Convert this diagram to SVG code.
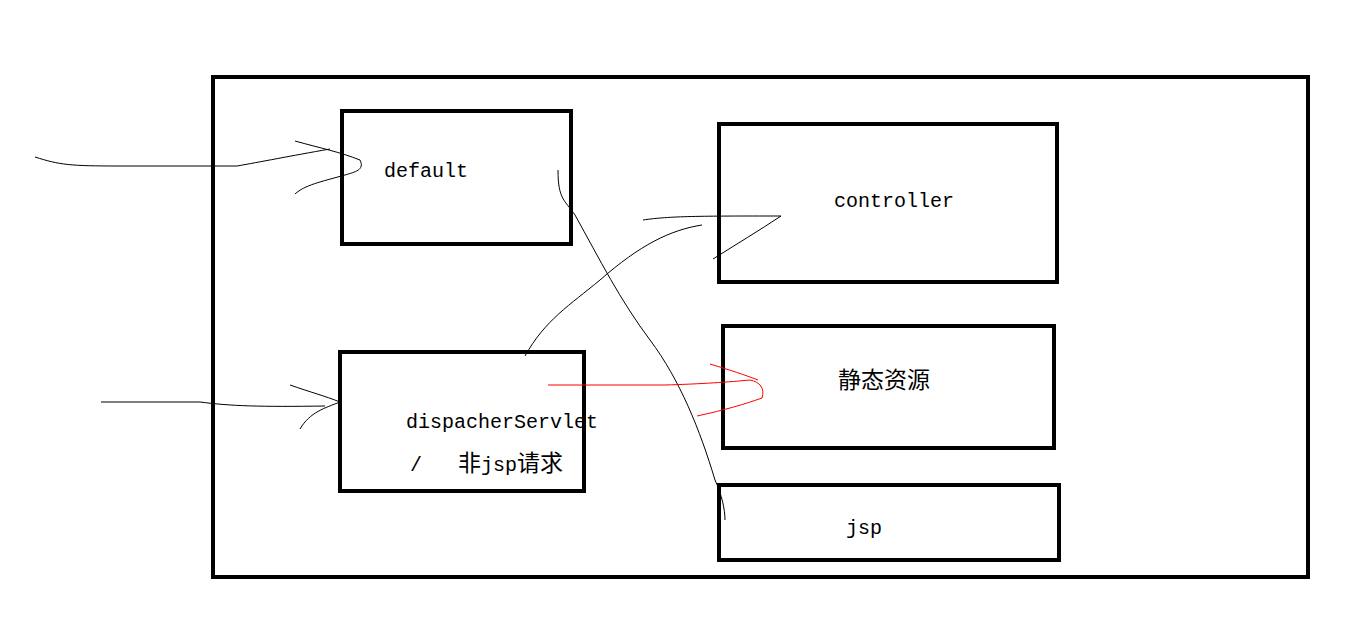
<svg xmlns="http://www.w3.org/2000/svg" width="1354" height="633" viewBox="0 0 1354 633">
<style>
.b{fill:none;stroke:#000;stroke-width:4}
.l{fill:none;stroke:#000;stroke-width:1}
.r{fill:none;stroke:#f00;stroke-width:1}
text{font-family:"Liberation Mono","Noto Sans CJK SC",monospace;font-size:20px;fill:#000;white-space:pre}
.c{font-family:"Noto Sans CJK SC",sans-serif;font-size:23px}
</style>
<rect width="1354" height="633" fill="#fff"/>
<g id="frame"><rect class="b" x="213" y="77" width="1095" height="500"/></g>
<g id="default"><rect class="b" x="342" y="111" width="229" height="133"/><text x="384" y="177">default</text></g>
<g id="dispatcher"><rect class="b" x="340" y="352" width="244" height="139"/><text x="406" y="428">dispacherServlet</text><text x="410" y="471" xml:space="preserve">/   <tspan class="c">非</tspan>jsp<tspan class="c">请求</tspan></text></g>
<g id="controller"><rect class="b" x="719" y="124" width="338" height="158"/><text x="834" y="207">controller</text></g>
<g id="static"><rect class="b" x="723" y="326" width="331" height="122"/><text class="c" x="838" y="388">静态资源</text></g>
<g id="jsp"><rect class="b" x="719" y="485" width="340" height="75"/><text x="846" y="534">jsp</text></g>
<g id="connectors">
<path class="l" d="M35,157 C60,165 70,166 120,166 L237,166 C260,162 290,156 330,149"/>
<path class="l" d="M295,141 C320,148 340,152 360,160 C365,170 355,172 345,175 C320,182 305,185 295,194"/>
<path class="l" d="M101,402 L200,402 C230,406 260,407 325,406"/>
<path class="l" d="M290,385 C310,392 325,396 340,402 C325,408 310,412 300,429"/>
<path class="l" d="M558,170 C558,200 565,200 575,215 C600,260 620,300 650,340 C680,380 700,430 715,480 C722,495 725,510 725,520"/>
<path class="l" d="M525,356 C545,320 570,305 600,280 C640,245 670,230 702,225"/>
<path class="l" d="M643,220 C670,216 700,216 781,216 C760,230 735,245 713,259"/>
<path class="r" d="M548,385 L665,385 C700,384 730,382 750,380 C760,382 765,388 762,398 C745,404 725,410 697,416"/>
<path class="r" d="M710,364 C730,370 745,375 758,380"/>
</g>
</svg>
